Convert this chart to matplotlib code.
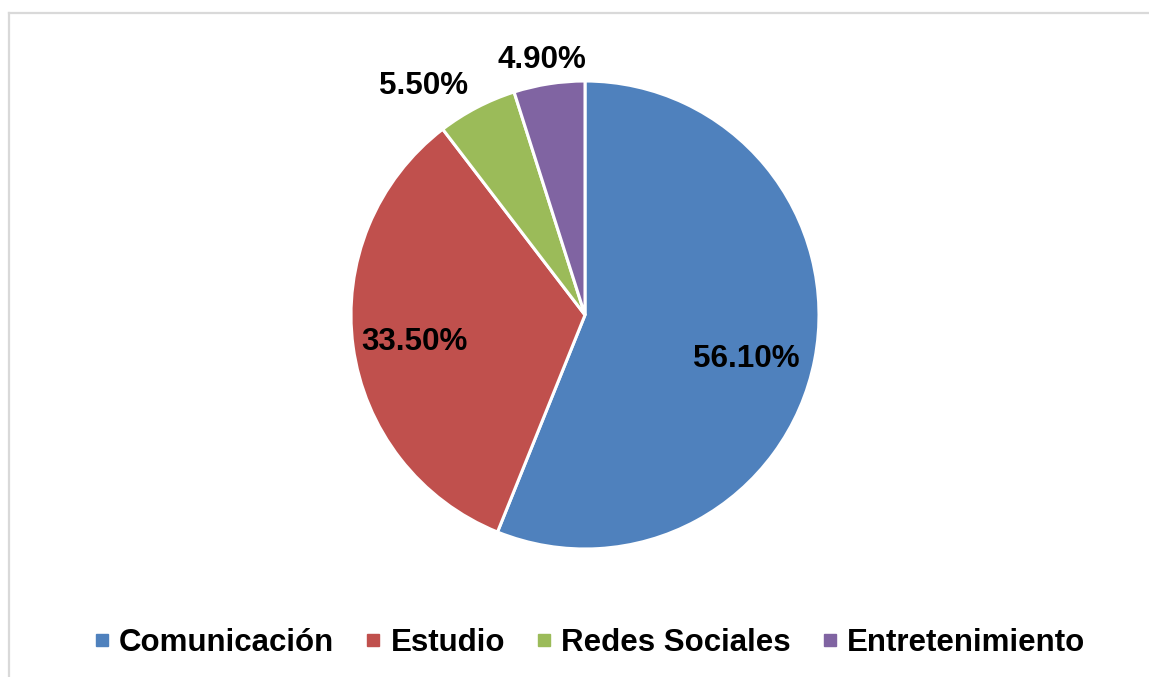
import matplotlib
matplotlib.use("Agg")
import matplotlib.pyplot as plt
from matplotlib.lines import Line2D

categories = ["Comunicación", "Estudio", "Redes Sociales", "Entretenimiento"]
values = [56.1, 33.5, 5.5, 4.9]
labels = ["56.10%", "33.50%", "5.50%", "4.90%"]
colors = ["#4F81BD", "#C0504D", "#9BBB59", "#8064A2"]

plt.rcParams['font.family'] = ['Liberation Sans', 'DejaVu Sans']

W, H = 1149, 677
fig = plt.figure(figsize=(W / 100, H / 100), dpi=100)

# frame lines (top and left, chart border)
fig.add_artist(Line2D([8.5 / W, 1.0], [1 - 12.5 / H, 1 - 12.5 / H], color="#D9D9D9", lw=1.6))
fig.add_artist(Line2D([8.5 / W, 8.5 / W], [0.0, 1 - 12.5 / H], color="#D9D9D9", lw=1.6))

cx, cy, r = 585, 315, 234
ax = fig.add_axes([(cx - r) / W, (H - cy - r) / H, 2 * r / W, 2 * r / H])
wedges, _ = ax.pie(values, colors=colors, startangle=90, counterclock=False,
                   radius=1.0, wedgeprops=dict(edgecolor="white", linewidth=2.2))
ax.set_xlim(-1, 1)
ax.set_ylim(-1, 1)
ax.set_aspect("equal")
ax.axis("off")

label_pos = [(0.690, -0.223), (-0.727, -0.150), (-0.688, 0.944), (-0.185, 1.056)]
for lab, (x, y) in zip(labels, label_pos):
    ax.text(x, y, lab, ha="center", va="baseline", fontsize=22.6,
            fontweight="bold", color="black", clip_on=False)

handles = [Line2D([], [], marker="s", linestyle="none", markersize=9,
                  markerfacecolor=c, markeredgecolor=c) for c in colors]
fig.legend(handles, categories, loc="center", bbox_to_anchor=(590.5 / W, 1 - 643 / H),
           ncol=4, frameon=False, prop=dict(size=22.5, weight="bold"),
           handlelength=0.4, handletextpad=0.35, columnspacing=1.05,
           borderpad=0, borderaxespad=0)

fig.savefig("out.png", dpi=100, facecolor="white")
